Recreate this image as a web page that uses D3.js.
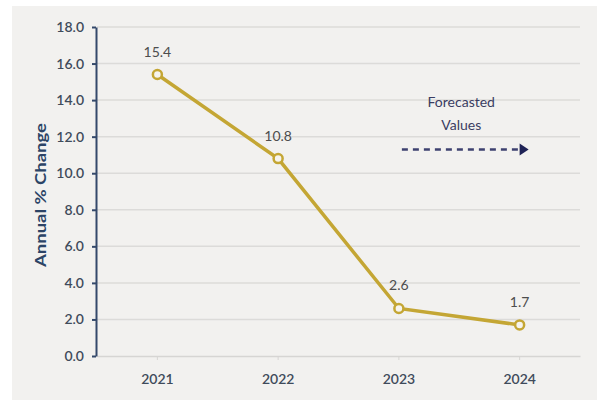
<!DOCTYPE html>
<html><head><meta charset="utf-8">
<script src="https://cdn.jsdelivr.net/npm/d3@7"></script>
<style>
html,body{margin:0;padding:0;background:#fff;}
svg{display:block;}
text{font-family:Lato,"Open Sans",sans-serif;}
</style></head>
<body>
<script>
const years = ["2021","2022","2023","2024"];
const values = [15.4, 10.8, 2.6, 1.7];
const valueLabels = ["15.4","10.8","2.6","1.7"];
const yTicks = [0,2,4,6,8,10,12,14,16,18];
const yTitle = "Annual % Change";
const noteLines = ["Forecasted","Values"];

const W = 597, H = 402;
const m = {left:97, right:17, top:27, bottom:46};
const svg = d3.select("body").append("svg").attr("width",W).attr("height",H);
svg.append("rect").attr("x",0).attr("y",0).attr("width",W).attr("height",H).attr("fill","#fff");
svg.append("rect").attr("x",12).attr("y",6).attr("width",W-12).attr("height",H-8).attr("fill","#f2f1ef");

const x = d3.scaleBand().domain(years).range([m.left, W-m.right]);
const y = d3.scaleLinear().domain([0,18]).range([H-m.bottom, m.top]);

// gridlines
svg.append("g").selectAll("line").data(yTicks.filter(t=>t>0)).join("line")
  .attr("x1",m.left).attr("x2",W-m.right)
  .attr("y1",d=>y(d)).attr("y2",d=>y(d))
  .attr("stroke","#dcdbd9").attr("stroke-width",1.5);

// x axis
const xa = svg.append("g").attr("transform",`translate(0,${y(0)})`)
  .call(d3.axisBottom(x).tickSize(4).tickSizeOuter(0).tickPadding(14));
xa.select(".domain").attr("stroke","#d6d5d3").attr("stroke-width",1.5);
xa.selectAll(".tick line").attr("stroke","#d6d5d3");
xa.selectAll("text").attr("fill","#3f4b5b").attr("font-size",14).attr("font-weight",600);

// y axis
const ya = svg.append("g").attr("transform",`translate(${m.left-1},0)`)
  .call(d3.axisLeft(y).tickValues(yTicks).tickFormat(d3.format(".1f")).tickSize(4).tickSizeOuter(0).tickPadding(8));
ya.select(".domain").attr("stroke","#34496b").attr("stroke-width",2);
ya.selectAll(".tick line").attr("stroke","#34496b").attr("stroke-width",2);
ya.selectAll("text").attr("fill","#3f4b5b").attr("font-size",14).attr("font-weight",600);

// y title
svg.append("text").attr("transform",`translate(46,195) rotate(-90)`)
  .attr("text-anchor","middle").attr("fill","#2c4466").attr("font-size",15).attr("font-weight",700)
  .attr("textLength",144).attr("lengthAdjust","spacingAndGlyphs")
  .text(yTitle);

const cx = d=>x(d)+x.bandwidth()/2;
const data = years.map((yr,i)=>({yr, v:values[i], l:valueLabels[i]}));
const gold = "#c4a634";
svg.append("path").datum(data)
  .attr("d", d3.line().x(d=>cx(d.yr)).y(d=>y(d.v)))
  .attr("fill","none").attr("stroke",gold).attr("stroke-width",3.5);
svg.append("g").selectAll("circle").data(data).join("circle")
  .attr("cx",d=>cx(d.yr)).attr("cy",d=>y(d.v)).attr("r",4.5)
  .attr("fill","#f6f4ee").attr("stroke",gold).attr("stroke-width",2.5);
svg.append("g").selectAll("text").data(data).join("text")
  .attr("x",d=>cx(d.yr)).attr("y",d=>y(d.v)-18)
  .attr("text-anchor","middle").attr("fill","#4d4d4d").attr("font-size",14)
  .text(d=>d.l);

// forecast note
const nx = (cx("2023")+cx("2024"))/2 + 2;
svg.append("g").selectAll("text").data(noteLines).join("text")
  .attr("x",nx).attr("y",(d,i)=>y(13.6)+i*23)
  .attr("text-anchor","middle").attr("fill","#3a3d62").attr("font-size",14)
  .text(d=>d);
const ay = y(11.3);
svg.append("line").attr("x1",cx("2023")+3).attr("x2",cx("2024")).attr("y1",ay).attr("y2",ay)
  .attr("stroke","#3e4170").attr("stroke-width",2.5).attr("stroke-dasharray","6,5");
svg.append("path").attr("d",`M${cx("2024")},${ay-6} L${cx("2024")+9},${ay} L${cx("2024")},${ay+6}Z`)
  .attr("fill","#1f2356");
</script>
</body></html>
